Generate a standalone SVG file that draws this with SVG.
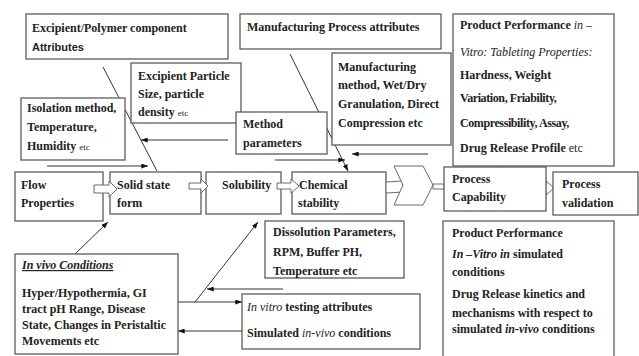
<svg xmlns="http://www.w3.org/2000/svg" width="639" height="356" viewBox="0 0 639 356">
<defs>
<style>
.b{fill:#fff;stroke:#5c5c5c;stroke-width:1.3}
.t{font-family:'Liberation Serif','Times New Roman',serif;font-weight:bold;font-size:12px;fill:#222}
.s{font-family:'Liberation Sans',Arial,sans-serif;font-weight:bold;font-size:11px;fill:#222}
.r{font-weight:normal}
.sm{font-weight:normal;font-size:9px}
.i{font-style:italic}
.n{letter-spacing:-0.4px}
.c{stroke:#333;stroke-width:1;fill:none}
.h{fill:#fff;stroke:#6a6a6a;stroke-width:1}
</style>
<marker id="ah" viewBox="0 0 8 6" refX="8" refY="3" markerWidth="7" markerHeight="5" markerUnits="userSpaceOnUse" orient="auto">
<path d="M0,0 L8,3 L0,6 Z" fill="#111"/>
</marker>
</defs>
<rect width="639" height="356" fill="#fff"/>

<g id="excipient-polymer">
<rect class="b" x="26" y="14" width="202" height="45"/>
<text class="t" x="32" y="32">Excipient/Polymer component</text>
<text class="s" x="32" y="51">Attributes</text>
</g>

<g id="manufacturing-process">
<rect class="b" x="240" y="14" width="201" height="35"/>
<text class="t" x="247" y="31">Manufacturing Process attributes</text>
</g>

<g id="connectors">
<line class="c" x1="103" y1="67" x2="157" y2="171"/>
<line class="c" x1="228" y1="140" x2="141" y2="140" marker-end="url(#ah)"/>
<line class="c" x1="47" y1="166" x2="148" y2="166" marker-end="url(#ah)"/>
<line class="c" x1="290" y1="54" x2="348" y2="171" marker-end="url(#ah)"/>
<line class="c" x1="428" y1="154" x2="352" y2="154" marker-end="url(#ah)"/>
<line class="c" x1="275" y1="160" x2="345" y2="160" marker-end="url(#ah)"/>
<line class="c" x1="75" y1="254" x2="108" y2="222" marker-end="url(#ah)"/>
<line class="c" x1="178" y1="302" x2="242" y2="302" marker-end="url(#ah)"/>
<line class="c" x1="195" y1="302" x2="258" y2="222" marker-end="url(#ah)"/>
<line class="c" x1="283" y1="289" x2="207" y2="289" marker-end="url(#ah)"/>
<line class="c" x1="242" y1="331" x2="178" y2="331" marker-end="url(#ah)"/>
</g>

<g id="particle-size">
<rect class="b" x="131" y="63" width="110" height="60"/>
<text class="t" x="138" y="80">Excipient Particle</text>
<text class="t" x="138" y="98">Size, particle</text>
<text class="t" x="138" y="116">density <tspan class="sm">etc</tspan></text>
</g>

<g id="isolation">
<rect class="b" x="21" y="98" width="104" height="62"/>
<text class="t" x="27" y="112">Isolation method,</text>
<text class="t" x="27" y="131">Temperature,</text>
<text class="t" x="27" y="150">Humidity <tspan class="sm">etc</tspan></text>
</g>

<g id="method-parameters">
<rect class="b" x="236" y="112" width="91" height="42"/>
<text class="t" x="243" y="128">Method</text>
<text class="t" x="243" y="147">parameters</text>
</g>

<g id="manufacturing-method">
<rect class="b" x="332" y="53" width="119" height="92"/>
<text class="t" x="338" y="71">Manufacturing</text>
<text class="t" x="338" y="89">method, Wet/Dry</text>
<text class="t" x="338" y="108">Granulation, Direct</text>
<text class="t" x="338" y="127">Compression etc</text>
</g>

<g id="product-performance-tableting">
<rect class="b" x="453" y="14" width="161" height="152"/>
<text class="t" x="460" y="29">Product Performance <tspan class="i r">in</tspan> <tspan class="r">–</tspan></text>
<text class="t i r" x="460" y="56">Vitro: Tableting Properties:</text>
<text class="t" x="460" y="79">Hardness, Weight</text>
<text class="t n" x="460" y="102">Variation, Friability,</text>
<text class="t n" x="460" y="127">Compressibility, Assay,</text>
<text class="t" x="460" y="152">Drug Release Profile <tspan class="r">etc</tspan></text>
</g>

<g id="flow-properties">
<rect class="b" x="15" y="172" width="88" height="49"/>
<text class="t" x="21" y="189">Flow</text>
<text class="t" x="21" y="207">Properties</text>
</g>

<g id="solid-state">
<rect class="b" x="110" y="172" width="91" height="42"/>
<text class="t" x="117" y="189">Solid state</text>
<text class="t" x="117" y="207">form</text>
</g>

<g id="solubility">
<rect class="b" x="206" y="172" width="75" height="42"/>
<text class="t" x="222" y="189">Solubility</text>
</g>

<g id="chemical-stability">
<rect class="b" x="292" y="172" width="94" height="42"/>
<text class="t" x="299" y="189">Chemical</text>
<text class="t" x="298" y="207">stability</text>
</g>

<g id="flow-arrows">
<path class="h" d="M94,185 H109 V181 L117,189 L109,197 V193 H94 Z"/>
<path class="h" d="M189,183 H201 V179 L208,186 L201,193 V189 H189 Z"/>
<path class="h" d="M277,183 H291 V179 L299,186 L291,193 V189 H277 Z"/>
<path class="h" d="M386,182 L402,181 L404,192 L386,193 Z"/>
<polygon class="h" points="394,166 423,166 433,185 423,205 394,205 403,185"/>
<path class="h" d="M433,184 H444 V189 H433 Z"/>
<path class="h" d="M533,185 H546 V181 L554,188 L546,195 V191 H533 Z"/>
</g>

<g id="process-capability">
<rect class="b" x="444" y="167" width="102" height="44"/>
<text class="t" x="452" y="183">Process</text>
<text class="t" x="452" y="201">Capability</text>
</g>

<g id="process-validation">
<rect class="b" x="553" y="172" width="85" height="43"/>
<text class="t" x="562" y="188">Process</text>
<text class="t" x="562" y="207">validation</text>
</g>

<g id="dissolution-parameters">
<rect class="b" x="265" y="221" width="139" height="57"/>
<text class="t" x="273" y="236">Dissolution Parameters,</text>
<text class="t" x="273" y="256">RPM, Buffer PH,</text>
<text class="t" x="273" y="275">Temperature etc</text>
</g>

<g id="in-vitro-testing">
<rect class="b" x="242" y="294" width="178" height="55"/>
<text class="t" x="247" y="311"><tspan class="i r">In vitro</tspan> testing attributes</text>
<text class="t" x="247" y="337">Simulated <tspan class="i r">in-vivo</tspan> conditions</text>
</g>

<g id="product-performance-simulated">
<rect class="b" x="443" y="221" width="171" height="140"/>
<text class="t" x="452" y="237">Product Performance</text>
<text class="t" x="452" y="258"><tspan class="i">In –Vitro in</tspan> simulated</text>
<text class="t" x="452" y="276">conditions</text>
<text class="t" x="452" y="298">Drug Release kinetics and</text>
<text class="t" x="452" y="317">mechanisms with respect to</text>
<text class="t" x="452" y="333">simulated <tspan class="i">in-vivo</tspan> conditions</text>
</g>

<g id="in-vivo-conditions">
<rect class="b" x="15" y="254" width="163" height="100"/>
<text class="t i" x="22" y="269" text-decoration="underline">In vivo Conditions</text>
<text class="t" x="22" y="297">Hyper/Hypothermia, GI</text>
<text class="t" x="22" y="313">tract pH Range, Disease</text>
<text class="t" x="22" y="329">State, Changes in Peristaltic</text>
<text class="t" x="22" y="345">Movements etc</text>
</g>
</svg>
